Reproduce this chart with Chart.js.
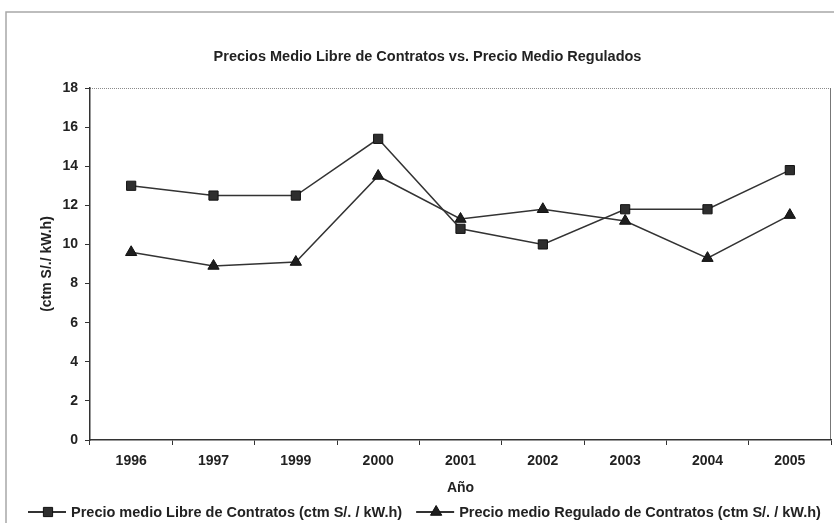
<!DOCTYPE html>
<html>
<head>
<meta charset="utf-8">
<script src="https://cdn.jsdelivr.net/npm/chart.js@4/dist/chart.umd.min.js"></script>
<style>
  html, body { margin: 0; padding: 0; background: #fff; }
  #wrap { width: 834px; height: 523px; }
</style>
</head>
<body>
<div id="wrap"><canvas id="precios" width="834" height="523"></canvas></div>
<script>
// años y precios medios (ctm S/. / kW.h)
const years = ["1996", "1997", "1999", "2000", "2001", "2002", "2003", "2004", "2005"];
const precioLibre = [13.0, 12.5, 12.5, 15.4, 10.8, 10.0, 11.8, 11.8, 13.8];
const precioRegulado = [9.6, 8.9, 9.1, 13.5, 11.3, 11.8, 11.2, 9.3, 11.5];
const yTicks = [0, 2, 4, 6, 8, 10, 12, 14, 16, 18];

const chartTitle = "Precios Medio Libre de Contratos vs. Precio Medio Regulados";
const xTitle = "Año";
const yTitle = "(ctm S/./ kW.h)";
const labelLibre = "Precio medio Libre de Contratos (ctm S/. / kW.h)";
const labelRegulado = "Precio medio Regulado de Contratos (ctm S/. / kW.h)";

const FONT = "'Liberation Sans', Arial, Helvetica, sans-serif";
const INK = "#222";

// outer frame + dotted top / plain right edge of the plot area
const framePlugin = {
  id: "frame",
  beforeDraw(chart) {
    const ctx = chart.ctx;
    const a = chart.chartArea;
    ctx.save();
    ctx.fillStyle = "#fff";
    ctx.fillRect(0, 0, chart.width, chart.height);
    ctx.strokeStyle = "#a8a8a8";
    ctx.lineWidth = 1.5;
    ctx.strokeRect(6, 12, chart.width + 20, chart.height + 20);

    ctx.lineWidth = 1;
    ctx.strokeStyle = "#8a8a8a";
    ctx.setLineDash([1, 1]);
    ctx.beginPath();
    ctx.moveTo(a.left, a.top + 0.5);
    ctx.lineTo(a.right, a.top + 0.5);
    ctx.stroke();
    ctx.setLineDash([]);
    ctx.strokeStyle = "#777";
    ctx.beginPath();
    ctx.moveTo(a.right - 0.5, a.top);
    ctx.lineTo(a.right - 0.5, a.bottom);
    ctx.stroke();
    ctx.restore();
  }
};

// legend in one row along the bottom, runs off the right edge
const legendRow = {
  id: "legendRow",
  afterDraw(chart) {
    const ctx = chart.ctx;
    const y = chart.height - 11;
    let x = 28;
    ctx.save();
    ctx.font = "bold 14.5px " + FONT;
    ctx.textBaseline = "middle";
    chart.data.datasets.forEach((ds) => {
      ctx.strokeStyle = ds.borderColor;
      ctx.lineWidth = 2;
      ctx.beginPath();
      ctx.moveTo(x, y);
      ctx.lineTo(x + 38, y);
      ctx.stroke();
      ctx.fillStyle = ds.pointBackgroundColor;
      ctx.strokeStyle = ds.pointBorderColor;
      ctx.lineWidth = 1;
      Chart.helpers.drawPoint(ctx, {
        pointStyle: ds.pointStyle,
        radius: ds.pointRadius,
        rotation: 0,
        borderWidth: 1
      }, x + 20, y);
      ctx.fillStyle = INK;
      ctx.fillText(ds.label, x + 43, y + 1);
      x += 43 + ctx.measureText(ds.label).width + 14;
    });
    ctx.restore();
  }
};

new Chart(document.getElementById("precios"), {
  type: "line",
  data: {
    labels: years,
    datasets: [
      {
        label: labelLibre,
        data: precioLibre,
        borderColor: "#333",
        borderWidth: 1.5,
        pointStyle: "rect",
        pointRadius: 6.5,
        pointBackgroundColor: "#2e2e2e",
        pointBorderColor: "#111",
        pointBorderWidth: 1,
        tension: 0
      },
      {
        label: labelRegulado,
        data: precioRegulado,
        borderColor: "#333",
        borderWidth: 1.5,
        pointStyle: "triangle",
        pointRadius: 6.5,
        pointBackgroundColor: "#1e1e1e",
        pointBorderColor: "#111",
        pointBorderWidth: 1,
        tension: 0
      }
    ]
  },
  options: {
    responsive: false,
    animation: false,
    events: [],
    layout: { autoPadding: false, padding: { left: 24, right: 3, top: 0, bottom: 23 } },
    plugins: {
      legend: { display: false },
      tooltip: { enabled: false },
      title: {
        display: true,
        text: chartTitle,
        color: INK,
        font: { family: FONT, size: 14.5, weight: "bold" },
        padding: { top: 48.3, bottom: 22.3 }
      }
    },
    scales: {
      x: {
        offset: true,
        grid: {
          offset: true,
          drawOnChartArea: false,
          drawTicks: true,
          tickLength: 5,
          color: "#333"
        },
        border: { color: "#333", width: 1.5 },
        ticks: {
          color: INK,
          padding: 8,
          maxRotation: 0,
          font: { family: FONT, size: 14, weight: "bold" }
        },
        title: {
          display: true,
          text: xTitle,
          color: INK,
          font: { family: FONT, size: 14, weight: "bold" },
          padding: { top: 0, bottom: 3.6 }
        },
        afterFit(scale) { scale.height = 60; }
      },
      y: {
        min: 0,
        max: 18,
        afterBuildTicks(scale) {
          scale.ticks = yTicks.map((v) => ({ value: v }));
        },
        grid: {
          drawOnChartArea: false,
          drawTicks: true,
          tickLength: 5,
          color: "#333"
        },
        border: { color: "#333", width: 1.5 },
        ticks: {
          color: INK,
          padding: 7,
          font: { family: FONT, size: 14, weight: "bold" }
        },
        title: {
          display: true,
          text: yTitle,
          color: INK,
          font: { family: FONT, size: 14, weight: "bold" },
          padding: { top: 15, bottom: 0 }
        },
        afterFit(scale) { scale.width = 66; }
      }
    }
  },
  plugins: [framePlugin, legendRow]
});
</script>
</body>
</html>
